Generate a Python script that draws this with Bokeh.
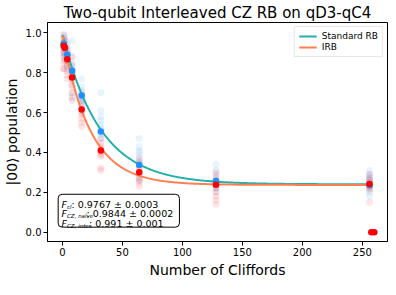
import numpy as np
from bokeh.plotting import figure
from bokeh.models import Range1d, FixedTicker, Label, BoxAnnotation, Legend, LegendItem, PrintfTickFormatter
from bokeh.embed import file_html
from bokeh.resources import INLINE

# ---------------- data ----------------
lengths = [1, 2, 4, 8, 16, 32, 64, 128, 256]
std_mean = [0.945, 0.925, 0.89, 0.81, 0.686, 0.505, 0.337, 0.257, 0.235]
irb_mean = [0.935, 0.925, 0.868, 0.776, 0.616, 0.41, 0.30, 0.238, 0.241]

std_samples = [
    [0.99, 0.97, 0.95, 0.94, 0.93, 0.91, 0.90, 0.88],
    [0.98, 0.96, 0.94, 0.92, 0.90, 0.87],
    [0.95, 0.93, 0.91, 0.90, 0.89, 0.88, 0.87, 0.86, 0.84, 0.82],
    [0.96, 0.88, 0.85, 0.83, 0.82, 0.81, 0.80, 0.79, 0.77, 0.70, 0.67],
    [0.77, 0.73, 0.71, 0.69, 0.68, 0.67, 0.66, 0.65, 0.63, 0.61],
    [0.70, 0.61, 0.58, 0.56, 0.54, 0.52, 0.51, 0.50, 0.49, 0.47],
    [0.47, 0.43, 0.41, 0.40, 0.38, 0.36, 0.35, 0.34, 0.33, 0.28, 0.26],
    [0.34, 0.31, 0.29, 0.27, 0.26, 0.25, 0.24, 0.23, 0.22, 0.20],
    [0.31, 0.29, 0.28, 0.27, 0.26, 0.25, 0.24, 0.23, 0.22, 0.20, 0.18],
]
irb_samples = [
    [0.99, 0.97, 0.95, 0.93, 0.92, 0.90, 0.88, 0.85, 0.82, 0.82],
    [0.96, 0.94, 0.92, 0.89, 0.86],
    [0.92, 0.90, 0.88, 0.86, 0.85, 0.83, 0.81, 0.79, 0.77],
    [0.88, 0.84, 0.80, 0.78, 0.76, 0.74, 0.73, 0.70, 0.68, 0.66],
    [0.70, 0.66, 0.64, 0.62, 0.60, 0.59, 0.57, 0.55, 0.53],
    [0.47, 0.45, 0.43, 0.42, 0.41, 0.40, 0.39, 0.38, 0.32, 0.31],
    [0.37, 0.35, 0.33, 0.31, 0.30, 0.29, 0.27, 0.26, 0.25, 0.23],
    [0.30, 0.28, 0.26, 0.25, 0.24, 0.23, 0.22, 0.20, 0.18, 0.16, 0.14],
    [0.995, 0.29, 0.27, 0.26, 0.25, 0.24, 0.23, 0.22, 0.21, 0.15],
]
outlier_x = [257.5, 260.0]
outlier_y = [0.0, 0.0]

# fit parameters  y = A * p**m + B
std_fit = dict(A=0.75, B=0.24, p=0.969)
irb_fit = dict(A=0.75, B=0.237, p=0.9574)

x_ticks = [0, 50, 100, 150, 200, 250]
y_ticks = [0.0, 0.2, 0.4, 0.6, 0.8, 1.0]

title = "Two-qubit Interleaved CZ RB on qD3-qC4"
xlabel = "Number of Cliffords"
ylabel = "|00⟩ population"

FONT = "DejaVu Sans"
TEAL = "#20B2AA"
CORAL = "#FF7F50"
BLUE = "#1E90FF"
RED = "#FF0000"

p = figure(frame_width=340, frame_height=219, output_backend="svg", toolbar_location=None,
           x_range=Range1d(-12.5, 271), y_range=Range1d(-0.047, 1.052),
           min_border_left=0, min_border_right=3, min_border_top=0, min_border_bottom=0)
p.title.text = title
p.title.align = "center"
p.title.text_font = FONT
p.title.text_font_size = "15px"
p.title.text_font_style = "normal"
p.title.text_color = "black"
p.title.standoff = 2

p.xgrid.visible = False
p.ygrid.visible = False
p.outline_line_color = "black"
p.outline_line_width = 1

for ax in (p.xaxis[0], p.yaxis[0]):
    ax.major_tick_in = 0
    ax.major_tick_out = 4
    ax.minor_tick_line_color = None
    ax.axis_line_color = "black"
    ax.major_tick_line_color = "black"
    ax.major_label_text_font = FONT
    ax.major_label_text_font_size = "10px"
    ax.major_label_text_color = "black"
    ax.major_label_standoff = 2
    ax.axis_label_text_font = FONT
    ax.axis_label_text_font_size = "14px"
    ax.axis_label_text_font_style = "normal"
    ax.axis_label_text_color = "black"
    ax.axis_label_standoff = 3
p.xaxis.ticker = FixedTicker(ticks=x_ticks)
p.yaxis.ticker = FixedTicker(ticks=y_ticks)
p.yaxis.formatter = PrintfTickFormatter(format="%.1f")
p.xaxis.axis_label = xlabel
p.yaxis.axis_label = ylabel

# faint samples
sx, sy, rx, ry = [], [], [], []
for L, s in zip(lengths, std_samples):
    sx += [L] * len(s); sy += s
for L, s in zip(lengths, irb_samples):
    rx += [L] * len(s); ry += s
p.scatter(sx, sy, size=7, fill_color=BLUE, fill_alpha=0.1, line_color=None)
p.scatter(rx, ry, size=7, fill_color=RED, fill_alpha=0.1, line_color=None)

# fit curves
m = np.linspace(0, 256, 300)
l1 = p.line(m, std_fit["A"] * std_fit["p"] ** m + std_fit["B"], line_color=TEAL, line_width=2)
l2 = p.line(m, irb_fit["A"] * irb_fit["p"] ** m + irb_fit["B"], line_color=CORAL, line_width=2)

# means
p.scatter(lengths, std_mean, size=6.5, fill_color=BLUE, line_color=None)
p.scatter(lengths, irb_mean, size=6.5, fill_color=RED, line_color=None)
p.scatter(outlier_x, outlier_y, size=6.5, fill_color=RED, line_color=None)

legend = Legend(items=[LegendItem(label="Standard RB", renderers=[l1]),
                       LegendItem(label="IRB", renderers=[l2])],
                location="top_right", label_text_font=FONT, label_text_font_size="9px",
                label_text_color="black",
                glyph_width=18, glyph_height=8, label_height=9, label_standoff=5,
                spacing=1, padding=4, margin=4, border_line_color="#d0d0d0",
                background_fill_alpha=0.8)
p.add_layout(legend)

# fidelity box
p.add_layout(BoxAnnotation(left=-3.6, right=97.5, bottom=0.025, top=0.19,
                           fill_color="white", fill_alpha=0.8, line_color="black",
                           line_alpha=1.0, line_width=1, border_radius=4))
fid_subs = ["cl", "CZ, naïve", "CZ, inter."]
fid_vals = [": 0.9767 ± 0.0003", ": 0.9844 ± 0.0002", ": 0.991 ± 0.001"]
fid_val_off = [10, 25, 27.5]
fid_dy = [9.5, 0, -9.5]
for sub, val, off, dy in zip(fid_subs, fid_vals, fid_val_off, fid_dy):
    p.add_layout(Label(x=-0.8, y=0.093, y_offset=dy, text="F", text_font=FONT,
                       text_font_style="italic", text_font_size="9.5px",
                       text_baseline="middle", text_color="black"))
    p.add_layout(Label(x=-0.8, y=0.093, x_offset=5.5, y_offset=dy - 2.5, text=sub,
                       text_font=FONT, text_font_style="italic", text_font_size="5.5px",
                       text_baseline="middle", text_color="black"))
    p.add_layout(Label(x=-0.8, y=0.093, x_offset=off, y_offset=dy, text=val, text_font=FONT,
                       text_font_size="9.5px", text_baseline="middle", text_color="black"))

open("out.html", "w").write(file_html(p, INLINE))
